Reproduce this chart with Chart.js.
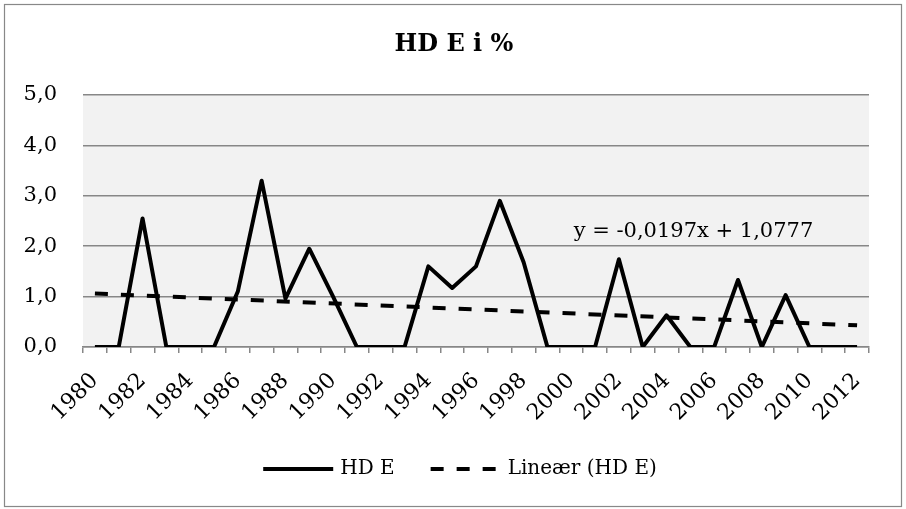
<!DOCTYPE html>
<html>
<head>
<meta charset="utf-8">
<script src="https://cdn.jsdelivr.net/npm/chart.js@4"></script>
<style>
  html, body { margin: 0; padding: 0; background: #ffffff; }
  #wrap { width: 906px; height: 509px; position: relative; }
</style>
</head>
<body>
<div id="wrap"><canvas id="c" width="906" height="509"></canvas></div>
<script>
// ---- data ----
const years = ['1980','1981','1982','1983','1984','1985','1986','1987','1988','1989','1990',
  '1991','1992','1993','1994','1995','1996','1997','1998','1999','2000','2001','2002','2003',
  '2004','2005','2006','2007','2008','2009','2010','2011','2012'];
const hdE = [0, 0, 2.55, 0, 0, 0, 1.1, 3.3, 0.96, 1.95, 1.0,
  0, 0, 0, 1.6, 1.17, 1.6, 2.9, 1.68, 0, 0, 0, 1.74, 0,
  0.63, 0, 0, 1.33, 0, 1.03, 0, 0, 0];
// linear trend line, read at first and last year
const trendEnds = [1.06, 0.43];
const yTicks = [0, 1, 2, 3, 4, 5];
const titleText = 'HD E i %';
const seriesName = 'HD E';
const trendName = 'Lineær (HD E)';
const equationText = 'y = -0,0197x + 1,0777';

const trendData = years.map((_, i) => i === 0 ? trendEnds[0] : (i === years.length - 1 ? trendEnds[1] : null));

const FONT = "'DejaVu Serif', serif";
const GRID = '#878787';
const DASH = [13, 13];

const decor = {
  id: 'decor',
  beforeDraw(chart) {
    const {ctx, chartArea: a} = chart;
    ctx.save();
    ctx.fillStyle = '#ffffff';
    ctx.fillRect(0, 0, chart.width, chart.height);
    ctx.fillStyle = '#f2f2f2';
    ctx.fillRect(a.left, a.top, a.right - a.left, a.bottom - a.top);
    ctx.strokeStyle = '#888888';
    ctx.lineWidth = 1.2;
    ctx.strokeRect(4.5, 4.5, 897, 502);
    ctx.restore();
  },
  afterDraw(chart) {
    const {ctx} = chart;
    const xs = chart.scales.x, ys = chart.scales.y;
    ctx.save();
    ctx.fillStyle = '#000';
    // title
    ctx.font = "bold 24px " + FONT;
    ctx.textAlign = 'center';
    ctx.textBaseline = 'middle';
    ctx.fillText(titleText, 454, 45);
    // trend equation
    ctx.font = "21px " + FONT;
    ctx.textAlign = 'left';
    ctx.textBaseline = 'alphabetic';
    ctx.fillText(equationText, xs.getPixelForValue(20.1), ys.getPixelForValue(2.18));
    // legend
    ctx.font = "20px " + FONT;
    ctx.textBaseline = 'middle';
    const items = chart.data.datasets.map(d => ({label: d.label, dash: d.borderDash || [], w: d.borderWidth}));
    const lineLen = 70, gapText = 7, gapItem = 36;
    let total = 0;
    items.forEach((it, i) => { total += lineLen + gapText + ctx.measureText(it.label).width + (i ? gapItem : 0); });
    let x = 460 - total / 2;
    const y = 469;
    items.forEach((it, i) => {
      if (i) x += gapItem;
      ctx.beginPath();
      ctx.setLineDash(it.dash);
      ctx.lineWidth = it.w;
      ctx.strokeStyle = '#000';
      ctx.lineCap = 'butt';
      ctx.moveTo(x, y); ctx.lineTo(x + lineLen, y);
      ctx.stroke();
      ctx.setLineDash([]);
      x += lineLen + gapText;
      ctx.fillText(it.label, x, y);
      x += ctx.measureText(it.label).width;
    });
    ctx.restore();
  }
};

new Chart(document.getElementById('c'), {
  type: 'line',
  data: {
    labels: years,
    datasets: [
      { label: seriesName, data: hdE, borderColor: '#000000', backgroundColor: '#000000',
        borderWidth: 4, pointRadius: 0, tension: 0, borderJoinStyle: 'round', borderCapStyle: 'butt' },
      { label: trendName, data: trendData, spanGaps: true, borderColor: '#000000', backgroundColor: '#000000',
        borderWidth: 4, borderDash: DASH, pointRadius: 0, tension: 0, borderCapStyle: 'butt' }
    ]
  },
  options: {
    responsive: false,
    animation: false,
    devicePixelRatio: 1,
    layout: { padding: { left: 12, right: 37, top: 95, bottom: 62 } },
    plugins: { tooltip: { enabled: false }, title: { display: false }, legend: { display: false } },
    scales: {
      x: {
        offset: true,
        afterFit(scale) { scale.height = 100; },
        grid: { offset: true, drawOnChartArea: false, drawTicks: true, tickLength: 6, tickColor: GRID, lineWidth: 1.5 },
        border: { display: true, color: GRID, width: 1.5 },
        ticks: {
          autoSkip: false, maxRotation: 45, minRotation: 45, padding: 15, color: '#000',
          font: { family: FONT, size: 22 },
          callback(v, i) { return i % 2 === 0 ? years[i] : ''; }
        }
      },
      y: {
        min: yTicks[0], max: yTicks[yTicks.length - 1],
        afterFit(scale) { scale.width = 71; },
        afterBuildTicks(scale) { scale.ticks = yTicks.map(v => ({value: v})); },
        grid: { color: GRID, lineWidth: 1.5, drawTicks: false },
        border: { display: false },
        ticks: { padding: 26, color: '#000', font: { family: FONT, size: 21 },
          callback(v) { return Number(v).toFixed(1).replace('.', ','); } }
      }
    }
  },
  plugins: [decor]
});
</script>
</body>
</html>
